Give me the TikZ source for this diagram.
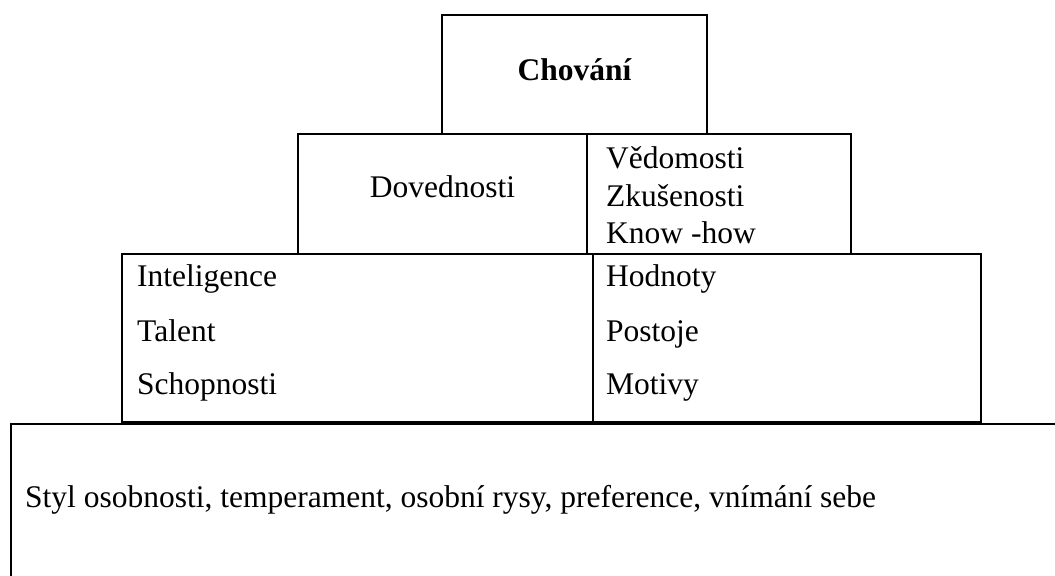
\documentclass[tikz,border=0pt]{standalone}
\usepackage{fontspec}
\setmainfont{Liberation Serif}
\begin{document}
\begin{tikzpicture}[x=1bp,y=-1bp,
  frame/.style={draw=black,line width=2bp},
  txt/.style={inner sep=0pt,font=\fontsize{31.5bp}{37.5bp}\selectfont},
  lbl/.style={txt,anchor=base west},
  ctr/.style={txt,anchor=base}]
\useasboundingbox (0,0) rectangle (1055,576);
\clip (0,0) rectangle (1055,576);

% top block
\draw[frame] (442,15) rectangle (707,134);
\node[ctr,font=\fontsize{31.5bp}{37.5bp}\selectfont\bfseries] (chovani) at (574.5,81) {Chování};

% middle row
\draw[frame] (298,134) rectangle (587,254);
\draw[frame] (587,134) rectangle (851,254);
\node[ctr] (dovednosti) at (442.5,198) {Dovednosti};
\node[lbl] (vedomosti) at (606,169) {Vědomosti};
\node[lbl] (zkusenosti) at (606,207) {Zkušenosti};
\node[lbl] (knowhow) at (606,244) {Know -how};

% lower row
\draw[frame] (122,254) rectangle (593,422);
\draw[frame] (593,254) rectangle (981,422);
\node[lbl] (inteligence) at (137,287) {Inteligence};
\node[lbl] (talent) at (137,341) {Talent};
\node[lbl] (schopnosti) at (137,394) {Schopnosti};
\node[lbl] (hodnoty) at (606,287) {Hodnoty};
\node[lbl] (postoje) at (606,341) {Postoje};
\node[lbl] (motivy) at (606,394) {Motivy};

% base block, running off the right and bottom edges
\draw[frame] (11,600) -- (11,424) -- (1070,424);
\node[lbl] (styl) at (25,507) {Styl osobnosti, temperament, osobní rysy, preference, vnímání sebe};
\end{tikzpicture}
\end{document}
